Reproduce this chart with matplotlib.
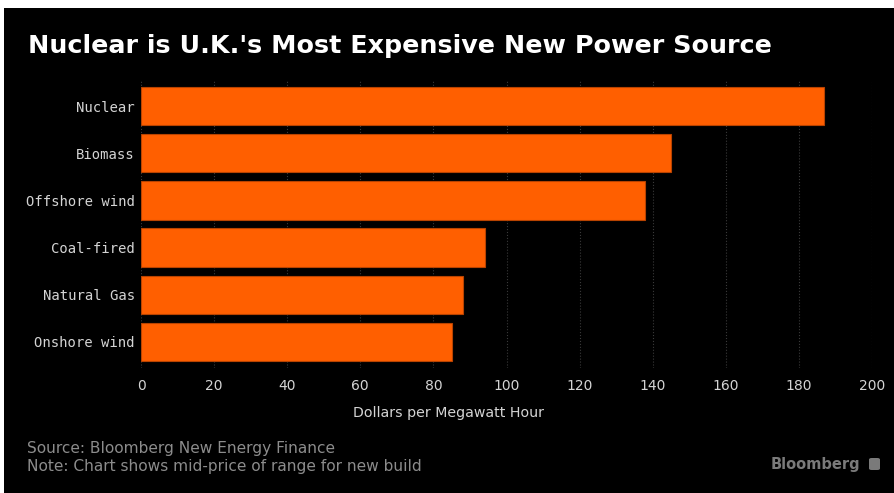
import matplotlib.pyplot as plt
from matplotlib.patches import Rectangle, FancyBboxPatch

sources = ["Nuclear", "Biomass", "Offshore wind", "Coal-fired", "Natural Gas", "Onshore wind"]
price = [187, 145, 138, 94, 88, 85]
xticks = [0, 20, 40, 60, 80, 100, 120, 140, 160, 180, 200]

orange = "#ff5f00"
light = "#d4d4d4"
grey = "#8c8c8c"

fig = plt.figure(figsize=(8.94, 4.93), dpi=100, facecolor="black")
# thin white margin at top/left
fig.patches.append(Rectangle((0, 1 - 8 / 493), 1, 8 / 493, transform=fig.transFigure,
                             facecolor="white", edgecolor="none"))
fig.patches.append(Rectangle((0, 0), 4 / 894, 1, transform=fig.transFigure,
                             facecolor="white", edgecolor="none"))

ax = fig.add_axes([141 / 894, 1 - 368 / 493, (872 - 141) / 894, (368 - 80) / 493])
ax.set_facecolor("black")
ax.barh(range(len(sources)), price, height=0.81, color=orange,
        edgecolor="#b84300", linewidth=0.8, zorder=3)
ax.set_xlim(0, 200)
ax.set_ylim(5.56, -0.56)
ax.set_yticks(range(len(sources)))
ax.set_yticklabels(sources, family="DejaVu Sans Mono", fontsize=10, color=light)
ax.set_xticks(xticks)
ax.set_xticklabels([str(t) for t in xticks], fontsize=10, color=light)
ax.tick_params(axis="y", length=0, pad=4.5)
ax.tick_params(axis="x", length=0, pad=8)
ax.grid(axis="x", color="#3a3a3a", linestyle=":", linewidth=0.8, zorder=0)
for s in ax.spines.values():
    s.set_visible(False)
ax.set_xlabel("Dollars per Megawatt Hour", fontsize=10.2, color=light)
# label sits centred on the figure, not on the axes
ax.xaxis.set_label_coords((448 - 141) / 731, -(413 - 368) / 288)
ax.xaxis.label.set_va("center")

fig.text(28 / 894, 1 - 46 / 493, "Nuclear is U.K.'s Most Expensive New Power Source",
         fontsize=18.3, fontweight="bold", color="white", va="center")
fig.text(27 / 894, 1 - 448 / 493, "Source: Bloomberg New Energy Finance",
         fontsize=11.1, color=grey, va="center")
fig.text(27 / 894, 1 - 466 / 493, "Note: Chart shows mid-price of range for new build",
         fontsize=11.1, color=grey, va="center")
fig.text(860 / 894, 1 - 464 / 493, "Bloomberg", fontsize=10.5, fontweight="bold",
         color="#7a7a7a", va="center", ha="right")
fig.patches.append(FancyBboxPatch((869 / 894, 1 - 470 / 493), 11 / 894, 12 / 493,
                                  boxstyle="round,pad=0,rounding_size=0.003",
                                  transform=fig.transFigure, facecolor="#7a7a7a",
                                  edgecolor="none"))

fig.savefig("out.png", dpi=100, facecolor=fig.get_facecolor())
